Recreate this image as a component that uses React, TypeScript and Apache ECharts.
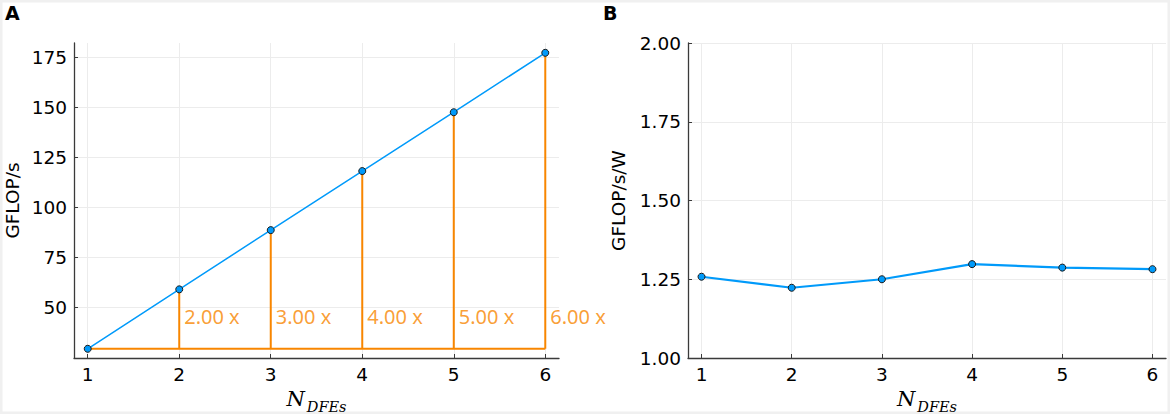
import React, { useEffect, useRef } from "react";
import * as echarts from "echarts";

// ---- data ----
const N_DFES = [1, 2, 3, 4, 5, 6];
const GFLOPS = [29.2, 58.9, 88.5, 118.0, 147.4, 177.1];
const GFLOPS_PER_W = [1.258, 1.223, 1.25, 1.298, 1.287, 1.282];
const SPEEDUP_LABELS = ["2.00 x", "3.00 x", "4.00 x", "5.00 x", "6.00 x"];
const X_TICKS = [1, 2, 3, 4, 5, 6];
const Y_TICKS_A = [50, 75, 100, 125, 150, 175];
const Y_TICKS_B = [1.0, 1.25, 1.5, 1.75, 2.0];

const BLUE = "#009AFA";
const ORANGE = "#F88600";
const AXIS = "#3a3a3a";
const GRID = "#ececec";
const LABEL_Y = 45.5;

export default function App() {
  const ref = useRef<HTMLDivElement>(null);

  useEffect(() => {
    document.body.style.margin = "0";
    if (!ref.current) return;
    const chart = echarts.init(ref.current, undefined, { renderer: "svg" });

    const tickLabel = {
      color: "#000",
      fontFamily: "DejaVu Sans",
      fontSize: 18.5,
    };
    const axisLine = { show: true, onZero: false, lineStyle: { color: AXIS, width: 1.3 } };
    const axisTick = (vals: number[]) => ({
      show: true,
      inside: true,
      length: 4,
      customValues: vals,
      lineStyle: { color: AXIS, width: 1 },
    });
    const splitLine = { show: true, lineStyle: { color: GRID, width: 1 } };
    const xName = {
      name: "{n|N}{s|DFEs}",
      nameLocation: "middle" as const,
      nameGap: 22,
      nameTextStyle: {
        rich: {
          n: {
            fontFamily: "DejaVu Serif",
            fontStyle: "italic",
            fontSize: 21,
            color: "#000",
            verticalAlign: "top",
            lineHeight: 23,
          },
          s: {
            fontFamily: "DejaVu Serif",
            fontStyle: "italic",
            fontSize: 14.5,
            color: "#000",
            verticalAlign: "top",
            lineHeight: 16,
            padding: [11, 0, 0, 2],
          },
        },
      },
    };

    const base = GFLOPS[0];
    const verticals = N_DFES.slice(1).map((n, i) => ({
      type: "line",
      xAxisIndex: 0,
      yAxisIndex: 0,
      data: [
        [n, base],
        [n, GFLOPS[i + 1]],
      ],
      symbol: "none",
      lineStyle: { color: ORANGE, width: 2 },
      z: 2,
      silent: true,
    }));

    const option: any = {
      animation: false,
      grid: [
        { left: 74, top: 43, width: 485, height: 315, outerBoundsMode: "none", containLabel: false },
        { left: 688, top: 43, width: 478, height: 315, outerBoundsMode: "none", containLabel: false },
      ],
      xAxis: [
        {
          gridIndex: 0,
          type: "value",
          min: 0.85,
          max: 6.15,
          axisLine,
          axisTick: axisTick(X_TICKS),
          axisLabel: { ...tickLabel, customValues: X_TICKS, margin: 7 },
          splitLine,
          ...xName,
        },
        {
          gridIndex: 1,
          type: "value",
          min: 0.85,
          max: 6.15,
          axisLine,
          axisTick: axisTick(X_TICKS),
          axisLabel: { ...tickLabel, customValues: X_TICKS, margin: 7 },
          splitLine,
          ...xName,
        },
      ],
      yAxis: [
        {
          gridIndex: 0,
          type: "value",
          min: 24.6,
          max: 182,
          axisLine,
          axisTick: axisTick(Y_TICKS_A),
          axisLabel: { ...tickLabel, customValues: Y_TICKS_A, margin: 7 },
          splitLine,
          name: "GFLOP/s",
          nameLocation: "middle",
          nameGap: 52,
          nameTextStyle: { color: "#000", fontFamily: "DejaVu Sans", fontSize: 18.5 },
        },
        {
          gridIndex: 1,
          type: "value",
          min: 1,
          max: 2,
          interval: 0.25,
          axisLine,
          axisTick: axisTick(Y_TICKS_B),
          axisLabel: {
            ...tickLabel,
            customValues: Y_TICKS_B,
            margin: 7,
            formatter: (v: number) => v.toFixed(2),
          },
          splitLine,
          name: "GFLOP/s/W",
          nameLocation: "middle",
          nameGap: 60,
          nameTextStyle: { color: "#000", fontFamily: "DejaVu Sans", fontSize: 18.5 },
        },
      ],
      series: [
        {
          type: "line",
          xAxisIndex: 0,
          yAxisIndex: 0,
          data: [
            [N_DFES[0], base],
            [N_DFES[N_DFES.length - 1], base],
          ],
          symbol: "none",
          lineStyle: { color: ORANGE, width: 2 },
          z: 2,
          silent: true,
        },
        ...verticals,
        {
          type: "scatter",
          xAxisIndex: 0,
          yAxisIndex: 0,
          data: N_DFES.slice(1).map((n) => [n, LABEL_Y]),
          symbolSize: 0,
          silent: true,
          label: {
            show: true,
            position: "right",
            distance: 5,
            formatter: (p: any) => SPEEDUP_LABELS[p.dataIndex],
            color: ORANGE,
            fontFamily: "Noto Sans",
            fontSize: 20,
          },
          z: 3,
        },
        {
          type: "line",
          xAxisIndex: 0,
          yAxisIndex: 0,
          data: N_DFES.map((n, i) => [n, GFLOPS[i]]),
          symbol: "circle",
          symbolSize: 7,
          showSymbol: true,
          lineStyle: { color: BLUE, width: 1.5 },
          itemStyle: { color: BLUE, borderColor: "#1a1a1a", borderWidth: 1 },
          z: 5,
          silent: true,
        },
        {
          type: "line",
          xAxisIndex: 1,
          yAxisIndex: 1,
          data: N_DFES.map((n, i) => [n, GFLOPS_PER_W[i]]),
          symbol: "circle",
          symbolSize: 7,
          showSymbol: true,
          lineStyle: { color: BLUE, width: 2.2 },
          itemStyle: { color: BLUE, borderColor: "#1a1a1a", borderWidth: 1 },
          z: 5,
          silent: true,
        },
      ],
      graphic: [
        {
          type: "rect",
          shape: { x: 0, y: 0, width: 1170, height: 414 },
          style: { fill: "none", stroke: "#f0f0f0", lineWidth: 5 },
          silent: true,
        },
        {
          type: "text",
          left: 5,
          top: 3,
          style: {
            text: "A",
            fill: "#000",
            font: "bold 19px 'DejaVu Sans'",
          },
        },
        {
          type: "text",
          left: 603,
          top: 3,
          style: {
            text: "B",
            fill: "#000",
            font: "bold 19px 'DejaVu Sans'",
          },
        },
      ],
    };

    chart.setOption(option);
    return () => chart.dispose();
  }, []);

  return <div ref={ref} style={{ width: 1170, height: 414, background: "#fff" }} />;
}
